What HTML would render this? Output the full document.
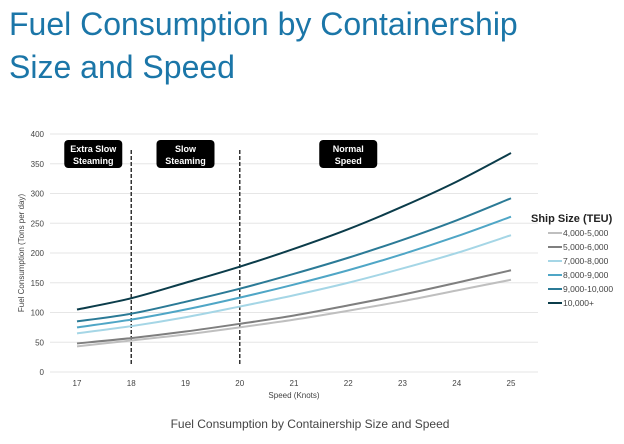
<!DOCTYPE html>
<html><head><meta charset="utf-8">
<style>
body{margin:0;background:#fff;width:624px;height:439px;overflow:hidden;font-family:"Liberation Sans",Arial,sans-serif}
</style></head>
<body>
<svg width="624" height="439" viewBox="0 0 624 439" xmlns="http://www.w3.org/2000/svg">
<text x="9" y="35" font-size="32" fill="#1b76a8">Fuel Consumption by Containership</text>
<text x="9" y="78" font-size="32" fill="#1b76a8">Size and Speed</text>
<g id="grid"></g>
<g id="plot"></g>
<text x="310" y="428" font-size="12" fill="#444" text-anchor="middle">Fuel Consumption by Containership Size and Speed</text>
</svg>
<script>
const speeds=[17,18,19,20,21,22,23,24,25];
const yTicks=[0,50,100,150,200,250,300,350,400];
const seriesNames=["4,000-5,000","5,000-6,000","7,000-8,000","8,000-9,000","9,000-10,000","10,000+"];
const s4000=[43,53,63,75,88,103,119,137,155];
const s5000=[48,57,68,81,95,112,130,150,171];
const s7000=[65,77,92,110,129,150,174,200,230];
const s8000=[75,88,105,125,147,171,198,228,261];
const s9000=[85,98,118,140,165,192,222,255,292];
const s10000=[105,124,150,177,207,240,278,320,368];
const colors=["#bfbfbf","#7f7f7f","#a5d6e6","#4fa6c6","#2b7a96","#0b3c4a"];
const zones=[{t:["Extra Slow","Steaming"],x:17.3},{t:["Slow","Steaming"],x:19.0},{t:["Normal","Speed"],x:22.0}];
const dividers=[18,20];
const NS="http://www.w3.org/2000/svg";
const X=v=>77+(v-17)*54.25, Y=v=>372-v*238/400;
function mk(tag,attrs,parent){const e=document.createElementNS(NS,tag);for(const k in attrs)e.setAttribute(k,attrs[k]);parent.appendChild(e);return e;}
const grid=document.getElementById('grid'),plot=document.getElementById('plot');
yTicks.forEach(t=>{
 const l=mk('line',{x1:50,x2:538,y1:Y(t),y2:Y(t),stroke:'#e6e6e6','stroke-width':1},grid);
 
 
 const tx=mk('text',{x:44,y:Y(t)+3,'font-size':8,fill:'#444','text-anchor':'end'},grid);
 tx.textContent=t;
 
 
});
speeds.forEach(s=>{
 const tx=mk('text',{x:X(s),y:386,'font-size':8,fill:'#444','text-anchor':'middle'},grid);
 tx.textContent=s;
 
 
});
let xt=mk('text',{x:X(21),y:398,'font-size':8,fill:'#444','text-anchor':'middle'},grid);xt.textContent='Speed (Knots)';


let yt=mk('text',{x:0,y:0,'font-size':8,fill:'#444','text-anchor':'middle',transform:'translate(24,253) rotate(-90)'},grid);yt.textContent='Fuel Consumption (Tons per day)';


dividers.forEach(d=>{
 const l=mk('line',{x1:X(d),x2:X(d),y1:150,y2:364,stroke:'#333','stroke-width':1.5,'stroke-dasharray':'4,2'},plot);
 
 
});
zones.forEach((z,i)=>{
 const cx=X(z.x);
 const r=mk('rect',{x:cx-29,y:140,width:58,height:28,rx:4,fill:'#000'},plot);
 
 
 z.t.forEach((t,j)=>{const tx=mk('text',{x:cx,y:152+j*12,'font-size':9,'font-weight':'bold',fill:'#fff','text-anchor':'middle'},plot);tx.textContent=t;
 
 });
});
const all=[s4000,s5000,s7000,s8000,s9000,s10000];
all.forEach((arr,i)=>{
 const pts=arr.map((v,k)=>[X(speeds[k]),Y(v)]);
 let d='M'+pts[0].join(',');
 for(let k=1;k<pts.length;k++){
  const p0=pts[k-2]||pts[k-1],p1=pts[k-1],p2=pts[k],p3=pts[k+1]||p2;
  d+=` C${p1[0]+(p2[0]-p0[0])/6},${p1[1]+(p2[1]-p0[1])/6} ${p2[0]-(p3[0]-p1[0])/6},${p2[1]-(p3[1]-p1[1])/6} ${p2[0]},${p2[1]}`;
 }
 const p=mk('path',{d:d,fill:'none',stroke:colors[i],'stroke-width':2},plot);
 
 
 const ly=233+i*14;
 const ll=mk('line',{x1:548,x2:562,y1:ly,y2:ly,stroke:colors[i],'stroke-width':2},plot);
 
 
 const lt=mk('text',{x:563,y:ly+3,'font-size':8.5,fill:'#444'},plot);lt.textContent=seriesNames[i];
 
 
});
const lg=mk('text',{x:531,y:222,'font-size':11,'font-weight':'bold',fill:'#222'},plot);lg.textContent='Ship Size (TEU)';


</script>
</body></html>
